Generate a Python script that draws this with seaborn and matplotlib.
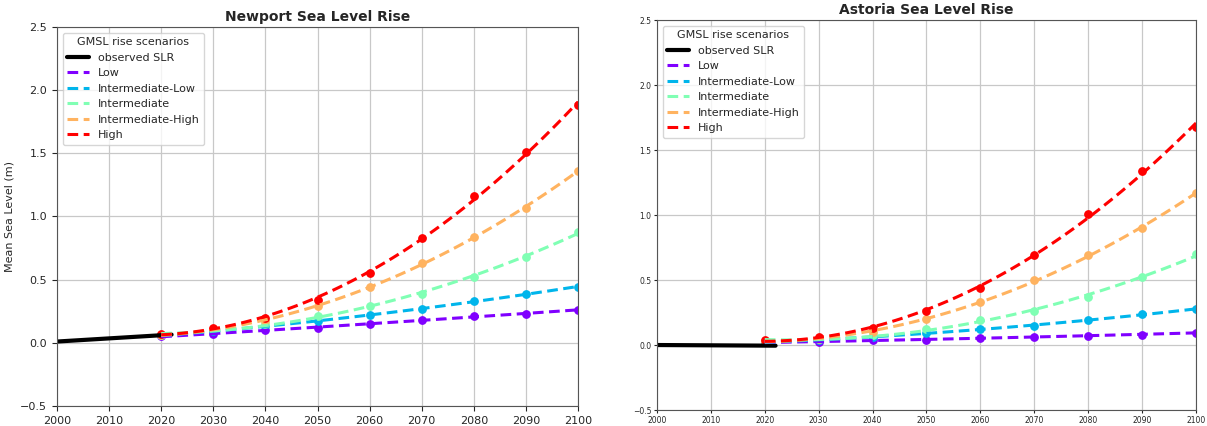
import numpy as np
import matplotlib
matplotlib.use("Agg")
import matplotlib.pyplot as plt
import seaborn as sns

# decades with scenario projections
years = [2020, 2030, 2040, 2050, 2060, 2070, 2080, 2090, 2100]
scenarios = ['Low', 'Intermediate-Low', 'Intermediate', 'Intermediate-High', 'High']

# Newport projections (m)
newport_low = [0.05, 0.07, 0.10, 0.12, 0.15, 0.18, 0.21, 0.23, 0.26]
newport_intlow = [0.06, 0.09, 0.13, 0.17, 0.22, 0.27, 0.33, 0.39, 0.44]
newport_int = [0.06, 0.10, 0.15, 0.21, 0.29, 0.39, 0.52, 0.68, 0.88]
newport_inthigh = [0.06, 0.11, 0.17, 0.29, 0.44, 0.63, 0.84, 1.07, 1.36]
newport_high = [0.07, 0.12, 0.20, 0.34, 0.55, 0.83, 1.16, 1.51, 1.88]

# Astoria projections (m)
astoria_low = [0.02, 0.025, 0.035, 0.04, 0.055, 0.065, 0.07, 0.08, 0.095]
astoria_intlow = [0.02, 0.04, 0.065, 0.09, 0.12, 0.15, 0.19, 0.24, 0.275]
astoria_int = [0.03, 0.045, 0.08, 0.12, 0.19, 0.26, 0.37, 0.52, 0.70]
astoria_inthigh = [0.03, 0.05, 0.10, 0.20, 0.33, 0.50, 0.69, 0.90, 1.17]
astoria_high = [0.035, 0.065, 0.13, 0.26, 0.44, 0.69, 1.01, 1.34, 1.68]

# observed sea level trend
obs_years = [2000, 2022]
newport_obs = [0.01, 0.065]
astoria_obs = [0.0, -0.005]

sns.set_style("ticks")
colors = plt.cm.rainbow(np.linspace(0, 1, len(scenarios)))

fig = plt.figure(figsize=(12.07, 4.26), dpi=100)
ax1 = fig.add_axes([0.0472, 0.047, 0.4317, 0.8897])
ax2 = fig.add_axes([0.5443, 0.0375, 0.4466, 0.9155])


def draw(ax, obs, series, title, tick_size):
    ax.plot(obs_years, obs, color='black', lw=3, label='observed SLR')
    for name, vals, c in zip(scenarios, series, colors):
        sns.regplot(x=years, y=vals, order=2, ci=None, ax=ax, color=c,
                    scatter_kws={'s': 28, 'alpha': 1},
                    line_kws={'ls': (0, (3.5, 1.8)), 'lw': 2.2, 'label': name})
    ax.set_xlim(2000, 2100)
    ax.set_ylim(-0.5, 2.5)
    ax.set_xticks(range(2000, 2101, 10))
    ax.set_yticks(np.arange(-0.5, 2.51, 0.5))
    ax.tick_params(labelsize=tick_size)
    ax.grid(True, color='#c8c8c8', lw=0.9)
    for s in ax.spines.values():
        s.set_color('#555555')
    ax.set_title(title, fontsize=10, fontweight='bold', pad=4)
    ax.legend(title='GMSL rise scenarios', loc='upper left', fontsize=8,
              title_fontsize=8)


draw(ax1, newport_obs, [newport_low, newport_intlow, newport_int, newport_inthigh, newport_high],
     'Newport Sea Level Rise', 8)
ax1.set_ylabel('Mean Sea Level (m)', fontsize=8)
draw(ax2, astoria_obs, [astoria_low, astoria_intlow, astoria_int, astoria_inthigh, astoria_high],
     'Astoria Sea Level Rise', 5.5)
ax2.tick_params(pad=1.5, length=2.5)

fig.savefig('out.png', dpi=100)
